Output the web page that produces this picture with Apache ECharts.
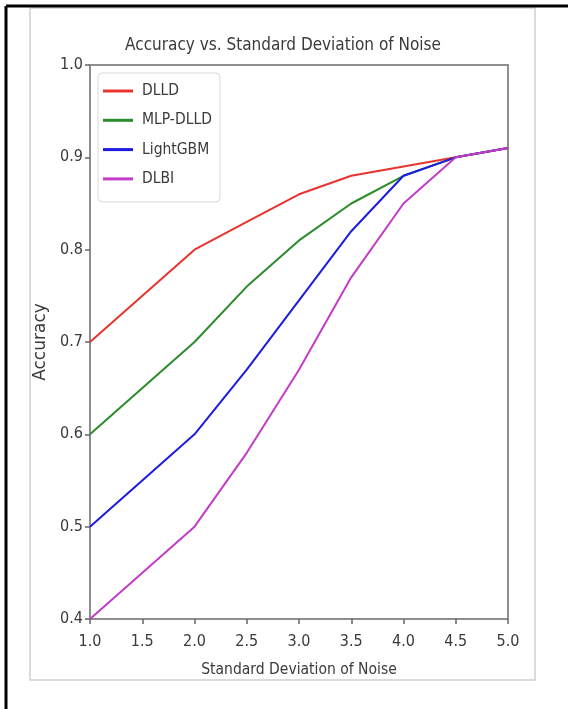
<!DOCTYPE html>
<html>
<head>
<meta charset="utf-8">
<script src="https://cdn.jsdelivr.net/npm/echarts@6/dist/echarts.min.js"></script>
<style>
html,body{margin:0;padding:0;background:#fff;}
#chart{width:568px;height:709px;}
</style>
</head>
<body>
<div id="chart"></div>
<script>
const xValues = [1.0, 2.0, 2.5, 3.0, 3.5, 4.0, 4.5, 5.0];
const seriesNames = ['DLLD', 'MLP-DLLD', 'LightGBM', 'DLBI'];
const dlld     = [0.70, 0.80, 0.83, 0.86, 0.88, 0.89, 0.90, 0.91];
const mlpDlld  = [0.60, 0.70, 0.76, 0.81, 0.85, 0.88, 0.90, 0.91];
const lightGbm = [0.50, 0.60, 0.67, 0.745, 0.82, 0.88, 0.90, 0.91];
const dlbi     = [0.40, 0.50, 0.58, 0.67, 0.77, 0.85, 0.90, 0.91];
const colors = ['#e8342f', '#2b8c2b', '#1c1ce0', '#c23cc8'];

const FONT = "'DejaVu Sans Condensed', 'Liberation Sans Narrow', 'DejaVu Sans', sans-serif";
const TXT = '#3a3a3a';

function pairs(ys){ return xValues.map((x,i)=>[x, ys[i]]); }
const allSeries = [dlld, mlpDlld, lightGbm, dlbi];

const chart = echarts.init(document.getElementById('chart'), null, {renderer:'canvas'});
chart.setOption({
  animation: false,
  backgroundColor: '#ffffff',
  title: {
    text: 'Accuracy vs. Standard Deviation of Noise',
    left: 278, top: 32, textAlign: 'center',
    textStyle: {fontFamily: FONT, fontSize: 17, fontWeight: 'normal', color: TXT}
  },
  graphic: [
    {type:'rect', shape:{x:30, y:8, width:505, height:672}, style:{fill:'none', stroke:'#cfcfcf', lineWidth:1.5}, silent:true},
    {type:'line', shape:{x1:6, y1:6, x2:568, y2:6}, style:{stroke:'#000', lineWidth:3}, silent:true},
    {type:'line', shape:{x1:6, y1:6, x2:6, y2:709}, style:{stroke:'#000', lineWidth:3}, silent:true}
  ],
  grid: {left: 90, right: 60, top: 65, bottom: 90, show: true, borderColor: '#8e8e8e', borderWidth: 2, backgroundColor: '#fff'},
  legend: {
    orient: 'vertical', left: 98, top: 73,
    data: seriesNames,
    icon: 'rect', itemWidth: 30, itemHeight: 3, itemGap: 11.3,
    padding: [9, 8, 14, 5],
    borderColor: '#d8d8d8', borderWidth: 1, borderRadius: 4, backgroundColor: '#fff',
    textStyle: {fontFamily: FONT, fontSize: 15.5, color: TXT, lineHeight: 18, padding: [0, 0, 0, 4]}
  },
  xAxis: {
    type: 'value', min: 1.0, max: 5.0, interval: 0.5,
    name: 'Standard Deviation of Noise', nameLocation: 'middle', nameGap: 43,
    nameTextStyle: {fontFamily: FONT, fontSize: 15.5, color: TXT},
    axisLine: {show: true, lineStyle: {color: '#8e8e8e', width: 2}},
    axisTick: {show: true, length: 5, lineStyle: {color: '#666', width: 1.5}},
    axisLabel: {fontFamily: FONT, fontSize: 16, color: TXT, margin: 15, formatter: v => v.toFixed(1)},
    splitLine: {show: false}
  },
  yAxis: {
    type: 'value', min: 0.4, max: 1.0, interval: 0.1,
    name: 'Accuracy', nameLocation: 'middle', nameGap: 36,
    nameTextStyle: {fontFamily: "'DejaVu Sans', sans-serif", fontSize: 17, color: TXT},
    axisLine: {show: true, lineStyle: {color: '#8e8e8e', width: 2}},
    axisTick: {show: true, length: 5, lineStyle: {color: '#666', width: 1.5}},
    axisLabel: {fontFamily: FONT, fontSize: 16, color: TXT, margin: 7, formatter: v => v.toFixed(1)},
    splitLine: {show: false}
  },
  series: seriesNames.map((name, i) => ({
    name, type: 'line', data: pairs(allSeries[i]),
    showSymbol: false, symbol: 'none',
    lineStyle: {color: colors[i], width: 2},
    itemStyle: {color: colors[i]},
    z: 2 + i
  }))
});
</script>
</body>
</html>
